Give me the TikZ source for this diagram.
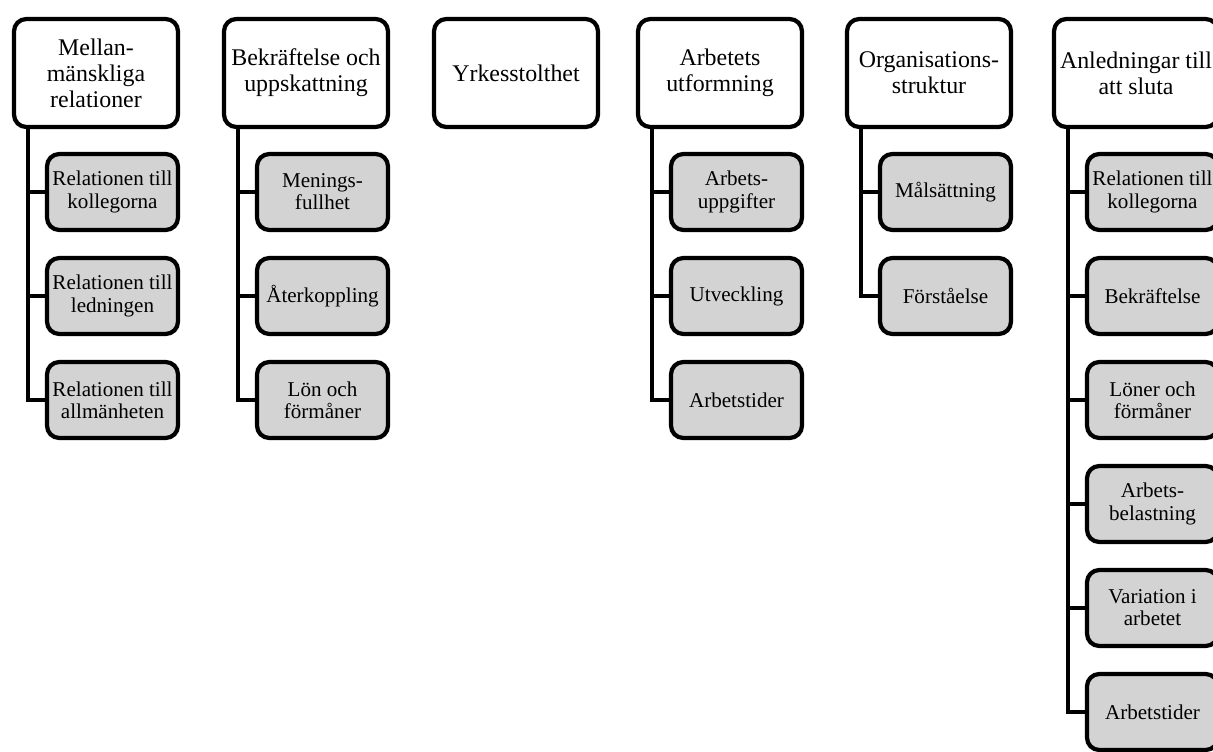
\documentclass[tikz,border=0pt]{standalone}
\usepackage{fontspec}
\setmainfont{Liberation Serif}
\definecolor{boxgray}{RGB}{211,211,211}
\tikzset{
  headbox/.style={draw, line width=2.4pt, rounded corners=7pt, fill=white, inner sep=1pt,
    minimum width=3.28cm, minimum height=2.16cm, align=center, font=\fontsize{13.6}{14.8}\selectfont},
  subbox/.style={draw, line width=2.4pt, rounded corners=7pt, fill=boxgray, inner sep=1pt,
    minimum width=2.62cm, minimum height=1.52cm, align=center, font=\fontsize{12}{12.6}\selectfont},
  branch/.style={line width=2.3pt}
}

\begin{document}
\begin{tikzpicture}[x=0.02cm,y=-0.02cm]
  \useasboundingbox (0,0) rectangle (1213,751);

  % Mellanmänskliga relationer
  \node[headbox] (mellan) at (96,73) {Mellan-\\mänskliga\\relationer};
  \node[subbox] (m1) at (112.5,192) {Relationen till\\kollegorna};
  \node[subbox] (m2) at (112.5,296) {Relationen till\\ledningen};
  \node[subbox] (m3) at (112.5,400) {Relationen till\\allmänheten};
  \draw[branch] ([xshift=0.32cm]mellan.south west) |- (m1.west);
  \draw[branch] ([xshift=0.32cm]mellan.south west) |- (m2.west);
  \draw[branch] ([xshift=0.32cm]mellan.south west) |- (m3.west);

  % Bekräftelse och uppskattning
  \node[headbox] (bekr) at (306,73) {Bekräftelse och\\uppskattning};
  \node[subbox] (b1) at (322.5,192) {Menings-\\fullhet};
  \node[subbox] (b2) at (322.5,296) {Återkoppling};
  \node[subbox] (b3) at (322.5,400) {Lön och\\förmåner};
  \draw[branch] ([xshift=0.32cm]bekr.south west) |- (b1.west);
  \draw[branch] ([xshift=0.32cm]bekr.south west) |- (b2.west);
  \draw[branch] ([xshift=0.32cm]bekr.south west) |- (b3.west);

  % Yrkesstolthet
  \node[headbox] (yrke) at (516,73) {Yrkesstolthet};

  % Arbetets utformning
  \node[headbox] (arbete) at (720,73) {Arbetets\\utformning};
  \node[subbox] (a1) at (736.5,192) {Arbets-\\uppgifter};
  \node[subbox] (a2) at (736.5,296) {Utveckling};
  \node[subbox] (a3) at (736.5,400) {Arbetstider};
  \draw[branch] ([xshift=0.32cm]arbete.south west) |- (a1.west);
  \draw[branch] ([xshift=0.32cm]arbete.south west) |- (a2.west);
  \draw[branch] ([xshift=0.32cm]arbete.south west) |- (a3.west);

  % Organisationsstruktur
  \node[headbox] (org) at (929,73) {Organisations-\\struktur};
  \node[subbox] (o1) at (945.5,192) {Målsättning};
  \node[subbox] (o2) at (945.5,296) {Förståelse};
  \draw[branch] ([xshift=0.32cm]org.south west) |- (o1.west);
  \draw[branch] ([xshift=0.32cm]org.south west) |- (o2.west);

  % Anledningar till att sluta
  \node[headbox] (anled) at (1136,73) {Anledningar till\\att sluta};
  \node[subbox] (s1) at (1152.5,192) {Relationen till\\kollegorna};
  \node[subbox] (s2) at (1152.5,296) {Bekräftelse};
  \node[subbox] (s3) at (1152.5,400) {Löner och\\förmåner};
  \node[subbox] (s4) at (1152.5,504) {Arbets-\\belastning};
  \node[subbox] (s5) at (1152.5,608) {Variation i\\arbetet};
  \node[subbox] (s6) at (1152.5,712) {Arbetstider};
  \draw[branch] ([xshift=0.32cm]anled.south west) |- (s1.west);
  \draw[branch] ([xshift=0.32cm]anled.south west) |- (s2.west);
  \draw[branch] ([xshift=0.32cm]anled.south west) |- (s3.west);
  \draw[branch] ([xshift=0.32cm]anled.south west) |- (s4.west);
  \draw[branch] ([xshift=0.32cm]anled.south west) |- (s5.west);
  \draw[branch] ([xshift=0.32cm]anled.south west) |- (s6.west);
\end{tikzpicture}
\end{document}
